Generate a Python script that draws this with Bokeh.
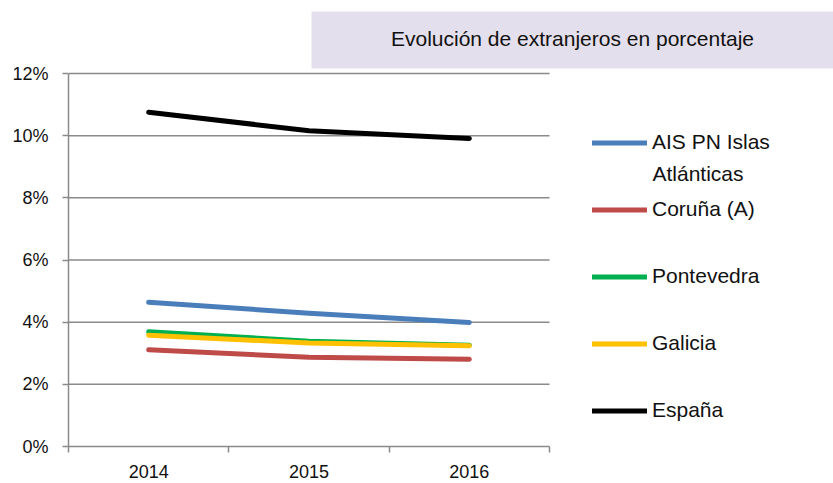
import numpy as np
from bokeh.plotting import figure
from bokeh.models import (Range1d, FixedTicker, NumeralTickFormatter, Legend,
                          LegendItem, BoxAnnotation, Label)
from bokeh.embed import file_html
from bokeh.resources import INLINE

# ---- data ----
years = ["2014", "2015", "2016"]
ais = [0.0464, 0.0429, 0.0399]
coruna = [0.0311, 0.0287, 0.0281]
pontevedra = [0.0369, 0.0339, 0.0326]
galicia = [0.0358, 0.0333, 0.0324]
espana = [0.1075, 0.1016, 0.0991]
series_labels = ["AIS PN Islas Atlánticas", "Coruña (A)", "Pontevedra", "Galicia", "España"]
series_values = [ais, coruna, pontevedra, galicia, espana]
series_colors = ["#4A7EBB", "#BE4B48", "#00B050", "#FFC000", "#000000"]
y_ticks = [0.0, 0.02, 0.04, 0.06, 0.08, 0.10, 0.12]
y_max = 0.12
chart_title = "Evolución de extranjeros en porcentaje"

FONT = "Liberation Sans"
GRID = "#8a8a8a"
TXT = "#111111"

# layout (pixels)
LEFT, BOTTOM = 68, 37
PLOT_W, PLOT_H = 481, 373          # the axes area
FRAME_W, FRAME_H = 833 - LEFT, 483 - BOTTOM

n = len(years)
xpos = np.arange(n) + 0.5

p = figure(frame_width=FRAME_W, frame_height=FRAME_H,
           min_border_left=LEFT, min_border_top=0, min_border_right=0,
           min_border_bottom=BOTTOM,
           x_range=Range1d(0, n * FRAME_W / PLOT_W),
           y_range=Range1d(0, y_max * FRAME_H / PLOT_H),
           output_backend="svg", toolbar_location=None)
p.outline_line_color = None
p.background_fill_color = "white"
p.border_fill_color = "white"

# title box
p.add_layout(BoxAnnotation(left=311, right=833, top=11, bottom=68,
                           left_units="canvas", right_units="canvas",
                           top_units="canvas", bottom_units="canvas",
                           fill_color="#E4DFEC", fill_alpha=1.0, line_color=None,
                           level="underlay"))
p.add_layout(Label(x=572, y=38, x_units="canvas", y_units="canvas",
                   text=chart_title, text_align="center", text_baseline="middle",
                   text_font=FONT, text_font_size="21px", text_color=TXT))

# axes
p.xaxis.bounds = (0, n)
p.xaxis.ticker = FixedTicker(ticks=list(xpos), minor_ticks=list(range(n + 1)))
p.xaxis.major_label_overrides = {float(x): y for x, y in zip(xpos, years)}
p.xaxis.major_tick_out = 0
p.xaxis.major_tick_in = 0
p.xaxis.minor_tick_out = 6
p.xaxis.minor_tick_in = 0
p.xaxis.minor_tick_line_color = GRID
p.xaxis.minor_tick_line_width = 1.5
p.xaxis.major_label_standoff = 12

p.yaxis.bounds = (0, y_max)
p.yaxis.ticker = FixedTicker(ticks=y_ticks)
p.yaxis.formatter = NumeralTickFormatter(format="0%")
p.yaxis.major_tick_out = 6
p.yaxis.major_tick_in = 0
p.yaxis.minor_tick_line_color = None
p.yaxis.major_label_standoff = 14

for ax in (p.xaxis, p.yaxis):
    ax.axis_line_color = GRID
    ax.axis_line_width = 1.5
    ax.major_tick_line_color = GRID
    ax.major_tick_line_width = 1.5
    ax.major_label_text_font = FONT
    ax.major_label_text_font_size = "18px"
    ax.major_label_text_color = TXT

p.xgrid.grid_line_color = None
p.ygrid.grid_line_color = None
grid_y = [t for t in y_ticks if t > 0]
p.segment(x0=[0] * len(grid_y), x1=[n] * len(grid_y), y0=grid_y, y1=grid_y,
          line_color=GRID, line_width=1.5)

items = []
for lab, vals, col in zip(series_labels, series_values, series_colors):
    r = p.line(xpos, vals, line_color=col, line_width=5, line_cap="round",
               line_join="round")
    # the long first name wraps onto a second line in the legend
    first_line = lab if lab != series_labels[0] else "AIS PN Islas"
    items.append(LegendItem(label=first_line, renderers=[r]))

legend = Legend(items=items, location=(524, 24), orientation="vertical",
                glyph_width=55, glyph_height=21, label_height=21, spacing=43,
                label_standoff=5, padding=0, margin=0,
                border_line_color=None, background_fill_alpha=0,
                label_text_font=FONT, label_text_font_size="21px",
                label_text_color=TXT)
p.add_layout(legend, "center")
p.add_layout(Label(x=652, y=173, x_units="canvas", y_units="canvas",
                   text=series_labels[0][len("AIS PN Islas "):],
                   text_align="left", text_baseline="middle",
                   text_font=FONT, text_font_size="21px", text_color=TXT))

open("out.html", "w").write(file_html(p, INLINE))
